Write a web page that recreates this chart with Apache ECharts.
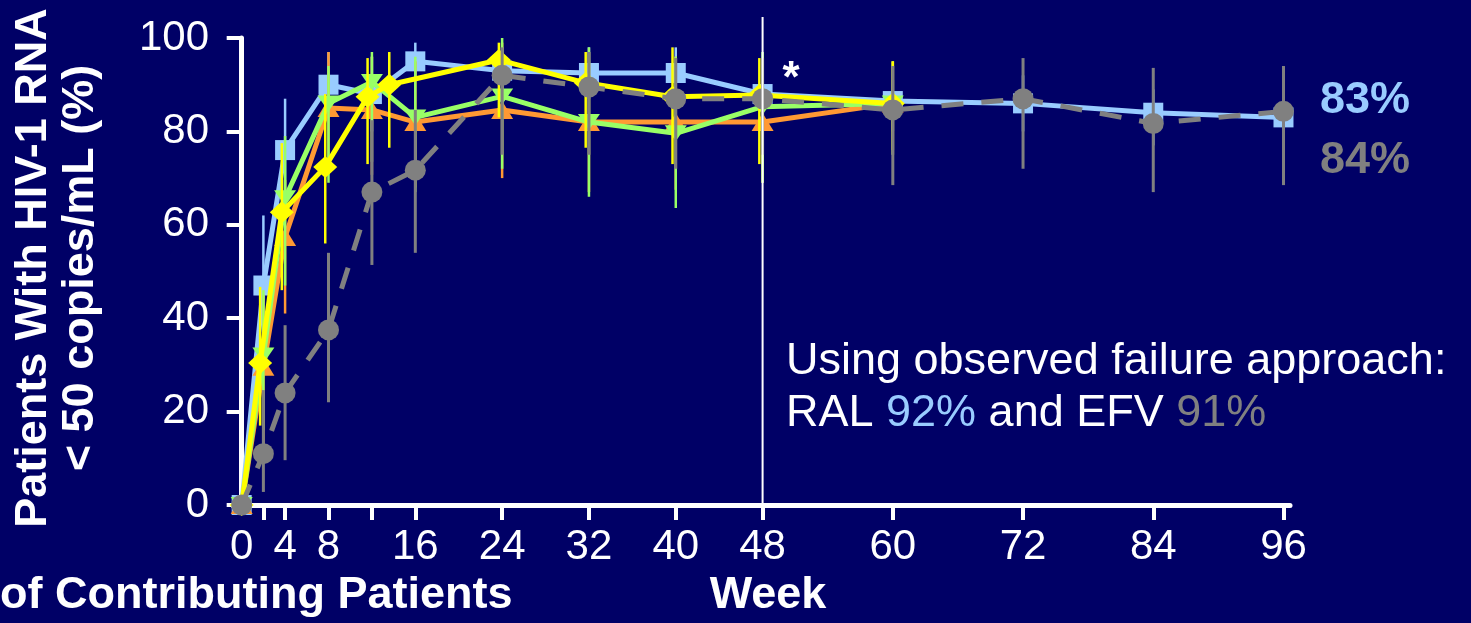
<!DOCTYPE html>
<html>
<head>
<meta charset="utf-8">
<script src="https://cdn.jsdelivr.net/npm/echarts@6/dist/echarts.min.js"></script>
<style>
  html, body { margin: 0; padding: 0; background: #000066; }
  #chart { width: 1471px; height: 623px; }
</style>
</head>
<body>
<div id="chart"></div>
<script>
// weeks on the x axis
var tickWeeks = [2, 4, 8, 12, 16, 24, 32, 40, 48, 60, 72, 84, 96];
var labelWeeks = [0, 4, 8, 16, 24, 32, 40, 48, 60, 72, 84, 96];

// RAL pooled (light blue squares)
var ralWeeks = [0, 2, 4, 8, 12, 16, 24, 32, 40, 48, 60, 72, 84, 96];
var ralPct = [0, 47, 76, 90, 88, 95, 93, 92.5, 92.5, 88, 86.5, 86, 84, 83];
var ralLo = [null, 32, 65, 83, 80, 91, 88, 87, 87, 82, 80, 80, 77, 76.5];
var ralHi = [null, 62, 87, 97, 96, 99, 98, 98, 98, 94, 91, 92, 89, 88.5];

// EFV (gray circles, dashed)
var efvWeeks = [0, 2, 4, 8, 12, 16, 24, 32, 40, 48, 60, 72, 84, 96];
var efvPct = [0, 11, 24, 37.5, 67, 71.7, 92, 89.5, 87, 87, 84.6, 87, 81.7, 84.3];
var efvLo = [null, 2.8, 9.6, 22, 51.4, 54, 75, 75, 72, 75, 68.5, 72, 67, 68.5];
var efvHi = [null, 24.6, 38.5, 54, 82.4, 84.6, 98, 97, 95.7, 95.7, 94, 95.7, 93.6, 94];

// green arm (inverted triangles)
var greenWeeks = [0, 2, 4, 8, 12, 16, 24, 32, 40, 48, 60];
var greenPct = [0, 32, 65.7, 86, 90.6, 83, 87.5, 82, 79.6, 85.3, 86];
var greenLo = [null, 16, 47, 69, 73.5, 67, 72, 66, 63.6, 69, 75];
var greenHi = [null, 46, 79, 94, 97, 96, 100, 98, 96, 97, 95];

// orange arm (triangles)
var orangeWeeks = [0, 2, 4, 8, 12, 16, 24, 32, 40, 48, 60];
var orangePct = [0, 29.6, 57.4, 85, 84.6, 82, 84.6, 82, 82, 82, 86];
var orangeLo = [null, 13, 41, 72, 70.7, 68, 70, 67, 67.5, 69, 75];
var orangeHi = [null, 45, 69.6, 97, 96, 95, 99, 97, 96, 95, 95];

// yellow arm (diamonds)
var yellowWeeks = [0, 1.7, 3.7, 7.7, 11.6, 13.6, 23.7, 31.7, 39.7, 47.7, 60];
var yellowPct = [0, 30.4, 62.7, 72.4, 87.4, 90, 95.3, 90.4, 87.4, 87.8, 86];
var yellowLo = [null, 17, 46, 56, 73, 76.5, 83, 76.5, 73, 73, 76];
var yellowHi = [null, 46.7, 77.5, 88, 95.7, 97, 99, 97, 98, 95.7, 95];

var refWeek = 48;
var refTop = 104.5;

var BG = '#000066';
var BLUE = '#99CCFF';
var GRAY = '#808080';
var GREEN = '#99FF66';
var ORANGE = '#FF9933';
var YELLOW = '#FFFF00';
var FONT = '"Liberation Sans", Arial, sans-serif';

function pairs(xs, ys) {
  return xs.map(function (x, i) { return [x, ys[i]]; });
}

function lineSeries(name, xs, ys, color, symbol, size, z, dashed) {
  return {
    name: name,
    type: 'line',
    z: z,
    clip: false,
    data: pairs(xs, ys),
    symbol: symbol,
    symbolSize: size,
    showAllSymbol: true,
    lineStyle: { color: color, width: 5, type: dashed ? [22, 18] : 'solid' },
    itemStyle: { color: color, opacity: 1 },
    emphasis: { disabled: true },
    animation: false
  };
}

function barSeries(xs, lo, hi, color, width, z) {
  var data = [];
  xs.forEach(function (x, i) {
    if (lo[i] != null) data.push([x, lo[i], hi[i]]);
  });
  return {
    type: 'custom',
    z: z,
    clip: false,
    data: data,
    encode: { x: 0, y: [1, 2] },
    renderItem: function (params, api) {
      var a = api.coord([api.value(0), api.value(1)]);
      var b = api.coord([api.value(0), api.value(2)]);
      return {
        type: 'line',
        shape: { x1: a[0], y1: a[1], x2: b[0], y2: b[1] },
        style: { stroke: color, lineWidth: width }
      };
    },
    animation: false
  };
}

var chart = echarts.init(document.getElementById('chart'));
chart.setOption({
  backgroundColor: BG,
  animation: false,
  grid: { left: 233, right: 181, top: 38, bottom: 118 },
  xAxis: {
    type: 'value',
    min: -0.8,
    max: 96.6,
    axisLine: { show: true, lineStyle: { color: '#fff', width: 5 } },
    axisTick: { show: true, customValues: tickWeeks, length: 15, lineStyle: { color: '#fff', width: 4 } },
    axisLabel: { customValues: labelWeeks, color: '#fff', fontSize: 42, fontFamily: FONT, margin: 21 },
    splitLine: { show: false }
  },
  yAxis: {
    type: 'value',
    min: 0,
    max: 100,
    interval: 20,
    axisLine: { show: true, lineStyle: { color: '#fff', width: 5 } },
    axisTick: { show: true, length: 15, lineStyle: { color: '#fff', width: 4 } },
    axisLabel: { color: '#fff', fontSize: 42, fontFamily: FONT, margin: 24 },
    splitLine: { show: false }
  },
  graphic: [
    {
      type: 'text', x: 57, y: 268, rotation: Math.PI / 2,
      style: {
        text: 'Patients With HIV-1 RNA\n< 50 copies/mL (%)',
        fill: '#fff', font: 'bold 45px ' + FONT,
        align: 'center', verticalAlign: 'middle', lineHeight: 47
      }
    },
    {
      type: 'text', left: 0, top: 573,
      style: { text: 'of Contributing Patients', fill: '#fff', font: 'bold 45px ' + FONT }
    },
    {
      type: 'text', x: 768, y: 596,
      style: { text: 'Week', fill: '#fff', font: 'bold 45px ' + FONT, align: 'center', verticalAlign: 'middle' }
    },
    {
      type: 'text', x: 791, y: 80,
      style: { text: '*', fill: '#fff', font: 'bold 44px ' + FONT, align: 'center', verticalAlign: 'middle' }
    },
    {
      type: 'text', x: 1320, y: 101,
      style: { text: '83%', fill: BLUE, font: 'bold 45px ' + FONT, verticalAlign: 'middle' }
    },
    {
      type: 'text', x: 1320, y: 161,
      style: { text: '84%', fill: GRAY, font: 'bold 45px ' + FONT, verticalAlign: 'middle' }
    },
    {
      type: 'text', x: 786, y: 362,
      style: { text: 'Using observed failure approach:', fill: '#fff', font: '45px ' + FONT, verticalAlign: 'middle' }
    },
    {
      type: 'text', x: 786, y: 414,
      style: {
        text: 'RAL {b|92%} and EFV {g|91%}',
        fill: '#fff', font: '45px ' + FONT, verticalAlign: 'middle',
        rich: {
          b: { fill: BLUE, font: '45px ' + FONT },
          g: { fill: GRAY, font: '45px ' + FONT }
        }
      }
    }
  ],
  series: [
    lineSeries('RAL', ralWeeks, ralPct, BLUE, 'rect', 20, 2),
    barSeries(ralWeeks, ralLo, ralHi, BLUE, 2.5, 3),
    lineSeries('Orange', orangeWeeks, orangePct, ORANGE, 'triangle', [22, 18], 4),
    barSeries(orangeWeeks, orangeLo, orangeHi, ORANGE, 2.5, 5),
    lineSeries('Green', greenWeeks, greenPct, GREEN, 'path://M0,0 L10,0 L5,8 Z', [22, 16], 6),
    barSeries(greenWeeks, greenLo, greenHi, GREEN, 2.5, 7),
    lineSeries('Yellow', yellowWeeks, yellowPct, YELLOW, 'diamond', [24, 22], 8),
    barSeries(yellowWeeks, yellowLo, yellowHi, YELLOW, 2.5, 9),
    lineSeries('EFV', efvWeeks, efvPct, GRAY, 'circle', 21, 10, true),
    barSeries(efvWeeks, efvLo, efvHi, GRAY, 3, 11),
    {
      type: 'custom',
      z: 12,
      clip: false,
      data: [[refWeek, 0, refTop]],
      encode: { x: 0, y: [1, 2] },
      renderItem: function (params, api) {
        var a = api.coord([api.value(0), api.value(1)]);
        var b = api.coord([api.value(0), api.value(2)]);
        return {
          type: 'line',
          shape: { x1: a[0], y1: a[1], x2: b[0], y2: b[1] },
          style: { stroke: '#fff', lineWidth: 2 }
        };
      },
      animation: false
    }
  ]
});
</script>
</body>
</html>
